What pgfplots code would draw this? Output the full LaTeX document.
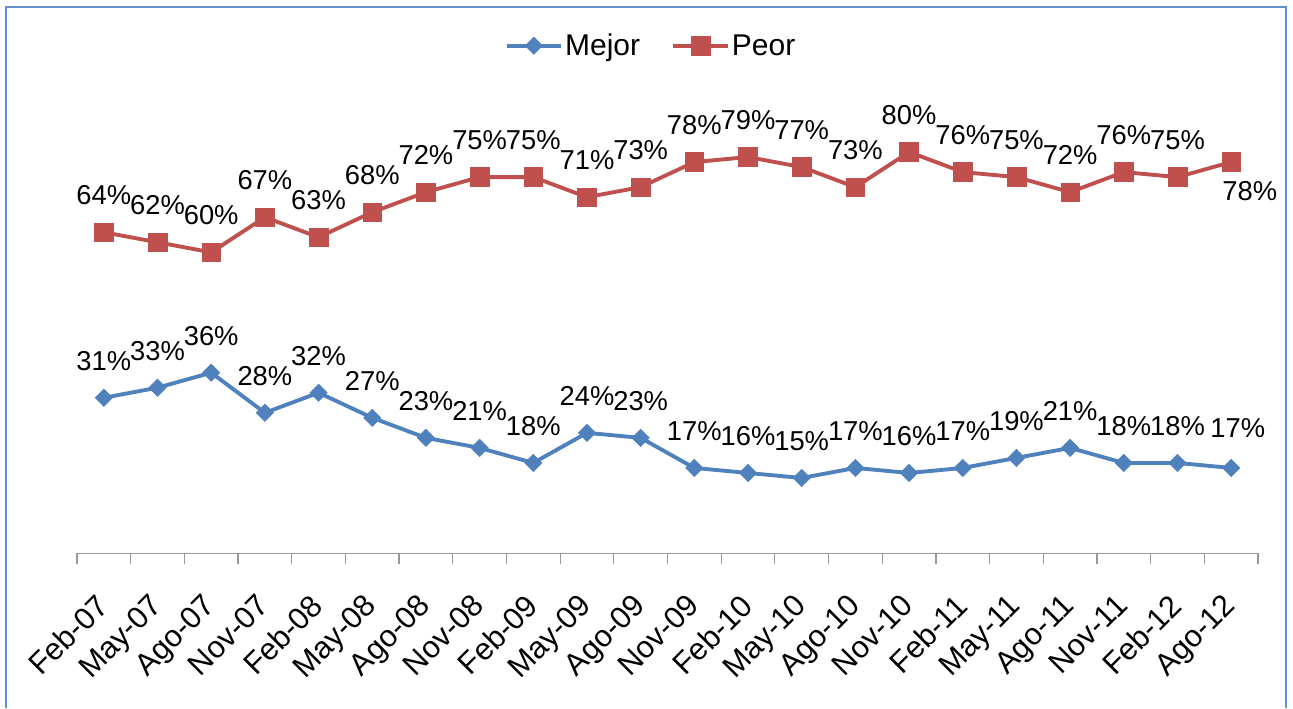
\documentclass[border=0pt]{standalone}
\usepackage{pgfplots}
\pgfplotsset{compat=1.18}
\usepackage{fontspec}
\setmainfont{Liberation Sans}
\definecolor{mejor}{RGB}{79,129,189}
\definecolor{peor}{RGB}{192,80,77}
\definecolor{framec}{RGB}{100,145,205}
\newcommand{\bigf}{\fontsize{22.5}{26}\selectfont}
\newcommand{\tickf}{\fontsize{23}{27}\selectfont}
\newcommand{\labf}{\fontsize{20.5}{24}\selectfont}
\begin{document}
\begin{tikzpicture}
\useasboundingbox (0,0) rectangle (969.75pt,531pt);
\draw[framec, line width=1.1pt] (4.5pt,0) -- (4.5pt,525.75pt) -- (964.5pt,525.75pt) -- (964.5pt,0);
\begin{axis}[
  at={(57.75pt,116.1pt)}, anchor=south west,
  scale only axis, width=885.75pt, height=376.1pt,
  xmin=-0.5, xmax=21.5, ymin=0, ymax=100,
  clip=false,
  axis x line*=bottom, axis y line=none,
  x axis line style={gray!80, line width=0.9pt},
  xtick={0,...,21},
  xticklabels={{\tickf Feb-07},{\tickf May-07},{\tickf Ago-07},{\tickf Nov-07},{\tickf Feb-08},{\tickf May-08},{\tickf Ago-08},{\tickf Nov-08},{\tickf Feb-09},{\tickf May-09},{\tickf Ago-09},{\tickf Nov-09},{\tickf Feb-10},{\tickf May-10},{\tickf Ago-10},{\tickf Nov-10},{\tickf Feb-11},{\tickf May-11},{\tickf Ago-11},{\tickf Nov-11},{\tickf Feb-12},{\tickf Ago-12}},
  major tick length=0pt,
  minor xtick={-0.5,0.5,...,21.5},
  minor tick length=8pt,
  tick align=outside,
  minor tick style={gray!80, line width=0.9pt},
  xticklabel style={yshift=-29pt, xshift=-7pt, rotate=45, anchor=north east, inner sep=0pt},
  /pgf/number format/assume math mode=true,
  legend style={at={(0.486,1.012)}, anchor=center, draw=none, fill=none, legend columns=-1,
    font=\bigf, nodes={inner sep=1.5pt},
    /tikz/every odd column/.append style={column sep=0pt},
    /tikz/every even column/.append style={column sep=22pt}},
  legend image code/.code={\draw[mark repeat=2,mark phase=2] plot coordinates {(0cm,0cm) (0.72cm,0cm) (1.44cm,0cm)};},
  every node near coord/.append style={font=\labf, text=black, inner sep=0pt, anchor=base, yshift=20.6pt},
]
\addplot[mejor, line width=2.9pt, mark=square*, mark size=4.6pt, mark options={rotate=45, solid, line width=0.4pt}]
 coordinates {(0,31)(1,33)(2,36)(3,28)(4,32)(5,27)(6,23)(7,21)(8,18)(9,24)(10,23)(11,17)(12,16)(13,15)(14,17)(15,16)(16,17)(17,19)(18,21)(19,18)(20,18)(21,17)};
\addlegendentry{Mejor}
\addplot[peor, line width=2.9pt, mark=square*, mark size=7pt, mark options={solid, line width=0.4pt}]
 coordinates {(0,64)(1,62)(2,60)(3,67)(4,63)(5,68)(6,72)(7,75)(8,75)(9,71)(10,73)(11,78)(12,79)(13,77)(14,73)(15,80)(16,76)(17,75)(18,72)(19,76)(20,75)(21,78)};
\addlegendentry{Peor}
% labels
\addplot[draw=none, forget plot, nodes near coords={\pgfmathprintnumber{\pgfplotspointmeta}\%}]
 coordinates {(0,31)(1,33)(2,36)(3,28)(4,32)(5,27)(6,23)(7,21)(8,18)(9,24)(10,23)(11,17)(12,16)(13,15)(14,17)(15,16)(16,17)(17,19)(18,21)(19,18)(20,18)};
\addplot[draw=none, forget plot, nodes near coords={\pgfmathprintnumber{\pgfplotspointmeta}\%},
  every node near coord/.append style={xshift=5pt, yshift=2pt}]
 coordinates {(21,17)};
\addplot[draw=none, forget plot, nodes near coords={\pgfmathprintnumber{\pgfplotspointmeta}\%}]
 coordinates {(0,64)(1,62)(2,60)(3,67)(4,63)(5,68)(6,72)(7,75)(8,75)(9,71)(10,73)(11,78)(12,79)(13,77)(14,73)(15,80)(16,76)(17,75)(18,72)(19,76)(20,75)};
\addplot[draw=none, forget plot, nodes near coords={\pgfmathprintnumber{\pgfplotspointmeta}\%},
  every node near coord/.append style={anchor=north, xshift=14pt, yshift=-35pt}]
 coordinates {(21,78)};
\end{axis}
\end{tikzpicture}
\end{document}
